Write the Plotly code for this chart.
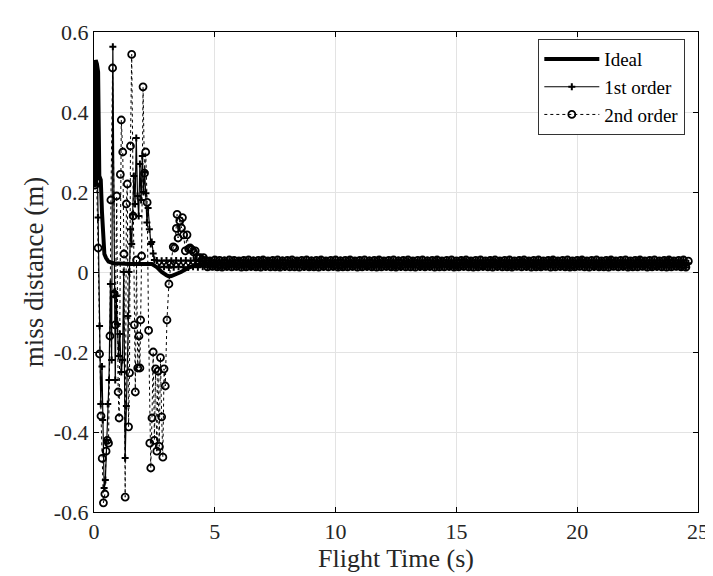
import plotly.graph_objects as go

# Ideal response
t_ideal = [0.04, 0.07, 0.12, 0.17, 0.22, 0.28, 0.33, 0.38, 0.43, 0.5, 0.6, 0.8, 1.0, 1.5,
           2.0, 2.4, 2.6, 2.8, 3.0, 3.1, 3.2, 3.4, 3.6, 3.8, 4.0, 4.3, 5.0, 10.0, 15.0, 20.0, 24.6]
y_ideal = [0.22, 0.53, 0.52, 0.50, 0.24, 0.23, 0.15, 0.07, 0.045, 0.035, 0.026, 0.022, 0.021, 0.02,
           0.02, 0.02, 0.012, 0.0, -0.008, -0.011, -0.01, -0.006, 0.0, 0.007, 0.013, 0.018, 0.02, 0.02, 0.02, 0.02, 0.02]

# 1st order - transient
t_first = [0.04, 0.10, 0.17, 0.23, 0.28, 0.33, 0.36, 0.42, 0.47, 0.52, 0.57, 0.62, 0.68, 0.73,
           0.78, 0.84, 0.88, 0.92, 0.97, 1.02, 1.07, 1.13, 1.18, 1.23, 1.29, 1.34, 1.40, 1.45,
           1.51, 1.56, 1.60, 1.65, 1.70, 1.75, 1.80, 1.85, 1.90, 1.95, 2.00, 2.05, 2.10, 2.15,
           2.19, 2.24, 2.29, 2.35, 2.39, 2.45, 2.50, 2.6, 2.7, 2.8, 2.9, 3.0, 3.1, 3.2, 3.3, 3.4,
           3.5, 3.6, 3.7, 3.8, 3.9, 4.0, 4.1, 4.2, 4.3, 4.4, 4.5]
y_first = [0.22, 0.41, 0.136, -0.135, -0.33, -0.236, -0.37, -0.54, -0.52, -0.42, -0.33, -0.27, -0.03, -0.22,
           0.563, -0.05, -0.27, -0.06, -0.13, -0.21, -0.155, -0.25, -0.22, 0.0, -0.465, -0.335, -0.11, 0.0,
           0.107, 0.07, 0.144, 0.24, 0.17, 0.335, 0.19, 0.14, 0.27, 0.18, 0.29, 0.2, 0.25, 0.197,
           0.124, 0.16, 0.107, 0.07, 0.075, 0.046, 0.03, 0.029, 0.012, 0.028, 0.013, 0.029, 0.011, 0.028, 0.012, 0.029,
           0.013, 0.028, 0.012, 0.029, 0.011, 0.028, 0.013, 0.029, 0.012, 0.028, 0.013]

# 2nd order - transient
t_second = [0.04, 0.11, 0.17, 0.23, 0.29, 0.34, 0.39, 0.45, 0.50, 0.55, 0.60, 0.66, 0.70, 0.77,
            0.84, 0.88, 0.94, 1.00, 1.04, 1.09, 1.13, 1.19, 1.24, 1.29, 1.34, 1.38, 1.43, 1.47,
            1.51, 1.56, 1.62, 1.67, 1.71, 1.76, 1.81, 1.86, 1.90, 1.93, 1.97, 2.03, 2.09, 2.14,
            2.20, 2.26, 2.31, 2.35, 2.40, 2.45, 2.50, 2.55, 2.60, 2.65, 2.70, 2.75, 2.80, 2.85,
            2.90, 2.95, 3.02, 3.10, 3.18, 3.28, 3.34, 3.41, 3.44, 3.48, 3.55, 3.62, 3.66, 3.71,
            3.78, 3.85, 3.92, 3.98, 4.05, 4.12, 4.19, 4.26, 4.33, 4.39, 4.46, 4.53]
y_second = [0.217, 0.225, 0.06, -0.205, -0.36, -0.466, -0.577, -0.555, -0.448, -0.421, -0.428, -0.16, 0.18, 0.51,
            -0.055, -0.132, 0.19, -0.30, -0.365, 0.244, 0.38, 0.30, 0.045, -0.563, 0.17, 0.22, -0.387, -0.252,
            0.315, 0.544, 0.14, -0.132, -0.30, 0.03, -0.24, -0.16, -0.24, -0.12, 0.04, 0.463, 0.247, 0.30,
            0.174, -0.146, -0.428, -0.49, -0.365, -0.2, -0.421, -0.242, -0.448, -0.248, -0.436, -0.214, -0.362, -0.463,
            -0.242, -0.285, -0.12, -0.03, 0.02, 0.063, 0.06, 0.109, 0.144, 0.085, 0.128, 0.11, 0.136, 0.093,
            0.053, 0.093, 0.058, 0.06, 0.056, 0.05, 0.053, 0.036, 0.035, 0.036, 0.03, 0.036]

# steady state part (both models), sampled every 0.1 s
t_steady = [4.6, 4.7, 4.8, 4.9, 5.0, 5.1, 5.2, 5.3, 5.4, 5.5,
            5.6, 5.7, 5.8, 5.9, 6.0, 6.1, 6.2, 6.3, 6.4, 6.5,
            6.6, 6.7, 6.8, 6.9, 7.0, 7.1, 7.2, 7.3, 7.4, 7.5,
            7.6, 7.7, 7.8, 7.9, 8.0, 8.1, 8.2, 8.3, 8.4, 8.5,
            8.6, 8.7, 8.8, 8.9, 9.0, 9.1, 9.2, 9.3, 9.4, 9.5,
            9.6, 9.7, 9.8, 9.9, 10.0, 10.1, 10.2, 10.3, 10.4, 10.5,
            10.6, 10.7, 10.8, 10.9, 11.0, 11.1, 11.2, 11.3, 11.4, 11.5,
            11.6, 11.7, 11.8, 11.9, 12.0, 12.1, 12.2, 12.3, 12.4, 12.5,
            12.6, 12.7, 12.8, 12.9, 13.0, 13.1, 13.2, 13.3, 13.4, 13.5,
            13.6, 13.7, 13.8, 13.9, 14.0, 14.1, 14.2, 14.3, 14.4, 14.5,
            14.6, 14.7, 14.8, 14.9, 15.0, 15.1, 15.2, 15.3, 15.4, 15.5,
            15.6, 15.7, 15.8, 15.9, 16.0, 16.1, 16.2, 16.3, 16.4, 16.5,
            16.6, 16.7, 16.8, 16.9, 17.0, 17.1, 17.2, 17.3, 17.4, 17.5,
            17.6, 17.7, 17.8, 17.9, 18.0, 18.1, 18.2, 18.3, 18.4, 18.5,
            18.6, 18.7, 18.8, 18.9, 19.0, 19.1, 19.2, 19.3, 19.4, 19.5,
            19.6, 19.7, 19.8, 19.9, 20.0, 20.1, 20.2, 20.3, 20.4, 20.5,
            20.6, 20.7, 20.8, 20.9, 21.0, 21.1, 21.2, 21.3, 21.4, 21.5,
            21.6, 21.7, 21.8, 21.9, 22.0, 22.1, 22.2, 22.3, 22.4, 22.5,
            22.6, 22.7, 22.8, 22.9, 23.0, 23.1, 23.2, 23.3, 23.4, 23.5,
            23.6, 23.7, 23.8, 23.9, 24.0, 24.1, 24.2, 24.3, 24.4, 24.5,
            24.6]
first_steady = [0.029, 0.012, 0.028, 0.013, 0.029, 0.011, 0.028, 0.012, 0.030, 0.012,
                0.028, 0.013, 0.029, 0.012, 0.028, 0.011, 0.029, 0.013, 0.028, 0.012,
                0.030, 0.012, 0.028, 0.013, 0.029, 0.011, 0.028, 0.012, 0.029, 0.013,
                0.028, 0.012, 0.030, 0.011, 0.029, 0.012, 0.028, 0.013, 0.029, 0.012,
                0.028, 0.011, 0.029, 0.013, 0.030, 0.012, 0.028, 0.012, 0.029, 0.011,
                0.029, 0.013, 0.028, 0.012, 0.029, 0.011, 0.030, 0.012, 0.028, 0.013,
                0.029, 0.012, 0.028, 0.011, 0.029, 0.013, 0.028, 0.012, 0.030, 0.012,
                0.028, 0.013, 0.029, 0.011, 0.028, 0.012, 0.029, 0.013, 0.028, 0.012,
                0.030, 0.011, 0.029, 0.012, 0.028, 0.013, 0.029, 0.012, 0.028, 0.011,
                0.029, 0.013, 0.030, 0.012, 0.028, 0.012, 0.029, 0.011, 0.028, 0.013,
                0.029, 0.012, 0.028, 0.013, 0.029, 0.011, 0.030, 0.012, 0.028, 0.012,
                0.029, 0.013, 0.028, 0.011, 0.029, 0.012, 0.028, 0.013, 0.030, 0.012,
                0.028, 0.011, 0.029, 0.013, 0.028, 0.012, 0.029, 0.012, 0.028, 0.013,
                0.030, 0.012, 0.028, 0.011, 0.029, 0.013, 0.028, 0.012, 0.029, 0.011,
                0.028, 0.013, 0.029, 0.012, 0.030, 0.011, 0.028, 0.012, 0.029, 0.013,
                0.028, 0.012, 0.029, 0.011, 0.028, 0.013, 0.030, 0.012, 0.028, 0.012,
                0.029, 0.011, 0.028, 0.013, 0.029, 0.012, 0.028, 0.011, 0.030, 0.013,
                0.028, 0.012, 0.029, 0.012, 0.028, 0.011, 0.029, 0.013, 0.028, 0.012,
                0.030, 0.013, 0.028, 0.012, 0.029, 0.011, 0.028, 0.012, 0.029, 0.013,
                0.028, 0.012, 0.030, 0.011, 0.029, 0.013, 0.028, 0.012, 0.029, 0.011,
                0.022]
second_steady = [0.029, 0.013, 0.028, 0.014, 0.030, 0.013, 0.029, 0.012, 0.028, 0.014,
                 0.030, 0.013, 0.029, 0.014, 0.028, 0.012, 0.029, 0.013, 0.030, 0.014,
                 0.028, 0.013, 0.029, 0.012, 0.030, 0.014, 0.028, 0.013, 0.029, 0.013,
                 0.030, 0.012, 0.028, 0.014, 0.029, 0.013, 0.030, 0.013, 0.028, 0.012,
                 0.029, 0.014, 0.030, 0.013, 0.028, 0.013, 0.029, 0.012, 0.030, 0.014,
                 0.028, 0.013, 0.029, 0.014, 0.030, 0.012, 0.028, 0.013, 0.029, 0.013,
                 0.030, 0.014, 0.028, 0.012, 0.029, 0.013, 0.030, 0.014, 0.028, 0.013,
                 0.029, 0.012, 0.030, 0.013, 0.028, 0.014, 0.029, 0.013, 0.030, 0.012,
                 0.028, 0.014, 0.029, 0.013, 0.030, 0.013, 0.028, 0.012, 0.029, 0.014,
                 0.030, 0.013, 0.028, 0.014, 0.029, 0.012, 0.030, 0.013, 0.028, 0.013,
                 0.029, 0.014, 0.030, 0.012, 0.028, 0.013, 0.029, 0.014, 0.030, 0.013,
                 0.028, 0.012, 0.029, 0.013, 0.030, 0.014, 0.028, 0.013, 0.029, 0.012,
                 0.030, 0.014, 0.028, 0.013, 0.029, 0.013, 0.030, 0.012, 0.028, 0.014,
                 0.029, 0.013, 0.030, 0.014, 0.028, 0.012, 0.029, 0.013, 0.030, 0.013,
                 0.028, 0.014, 0.029, 0.012, 0.030, 0.013, 0.028, 0.014, 0.029, 0.013,
                 0.030, 0.012, 0.028, 0.013, 0.029, 0.014, 0.030, 0.013, 0.028, 0.012,
                 0.029, 0.014, 0.030, 0.013, 0.028, 0.013, 0.029, 0.012, 0.030, 0.014,
                 0.028, 0.013, 0.029, 0.014, 0.030, 0.012, 0.028, 0.013, 0.029, 0.013,
                 0.030, 0.014, 0.028, 0.012, 0.029, 0.013, 0.030, 0.014, 0.028, 0.013,
                 0.029, 0.012, 0.030, 0.013, 0.028, 0.014, 0.029, 0.013, 0.030, 0.012,
                 0.027]

y_ticks = [-0.6, -0.4, -0.2, 0, 0.2, 0.4, 0.6]
y_tick_text = ["-0.6", "-0.4", "-0.2", "0", "0.2", "0.4", "0.6"]
x_ticks = [0, 5, 10, 15, 20, 25]

FONT = "Liberation Serif, Times New Roman, serif"

fig = go.Figure()

fig.add_trace(go.Scatter(
    x=t_ideal, y=y_ideal, mode="lines", name="Ideal",
    line=dict(color="black", width=4)
))

fig.add_trace(go.Scatter(
    x=t_first + t_steady, y=y_first + first_steady, mode="lines+markers", name="1st order",
    line=dict(color="black", width=1.2),
    marker=dict(symbol="cross-thin", size=5, line=dict(color="black", width=2))
))

fig.add_trace(go.Scatter(
    x=t_second + t_steady, y=y_second + second_steady, mode="lines+markers", name="2nd order",
    line=dict(color="black", width=1, dash="dot"),
    marker=dict(symbol="circle-open", size=7, color="black", line=dict(color="black", width=1.8))
))

axis_common = dict(
    showline=True, linecolor="black", linewidth=1, mirror="ticks",
    ticks="inside", ticklen=5, tickcolor="black",
    showgrid=True, gridcolor="#e3e3e3", gridwidth=1, zeroline=False,
    tickfont=dict(family=FONT, size=22, color="#262626"),
)

fig.update_layout(
    width=713, height=576,
    margin=dict(l=86, r=14, t=14, b=72),
    paper_bgcolor="white", plot_bgcolor="white",
    font=dict(family=FONT, color="#262626"),
    xaxis=dict(axis_common, range=[0, 25], tickvals=x_ticks,
               title=dict(text="Flight Time (s)", font=dict(family=FONT, size=26, color="#262626"), standoff=4)),
    yaxis=dict(axis_common, range=[-0.6, 0.6], tickvals=y_ticks, ticktext=y_tick_text,
               title=dict(text="miss distance (m)", font=dict(family=FONT, size=27, color="#262626"), standoff=2)),
    legend=dict(
        x=0.979, y=0.985, xanchor="right", yanchor="top",
        bgcolor="white", bordercolor="#333333", borderwidth=1,
        font=dict(family=FONT, size=19, color="black"),
        tracegroupgap=0, itemwidth=55
    ),
    showlegend=True
)

fig.write_html("out.html")
